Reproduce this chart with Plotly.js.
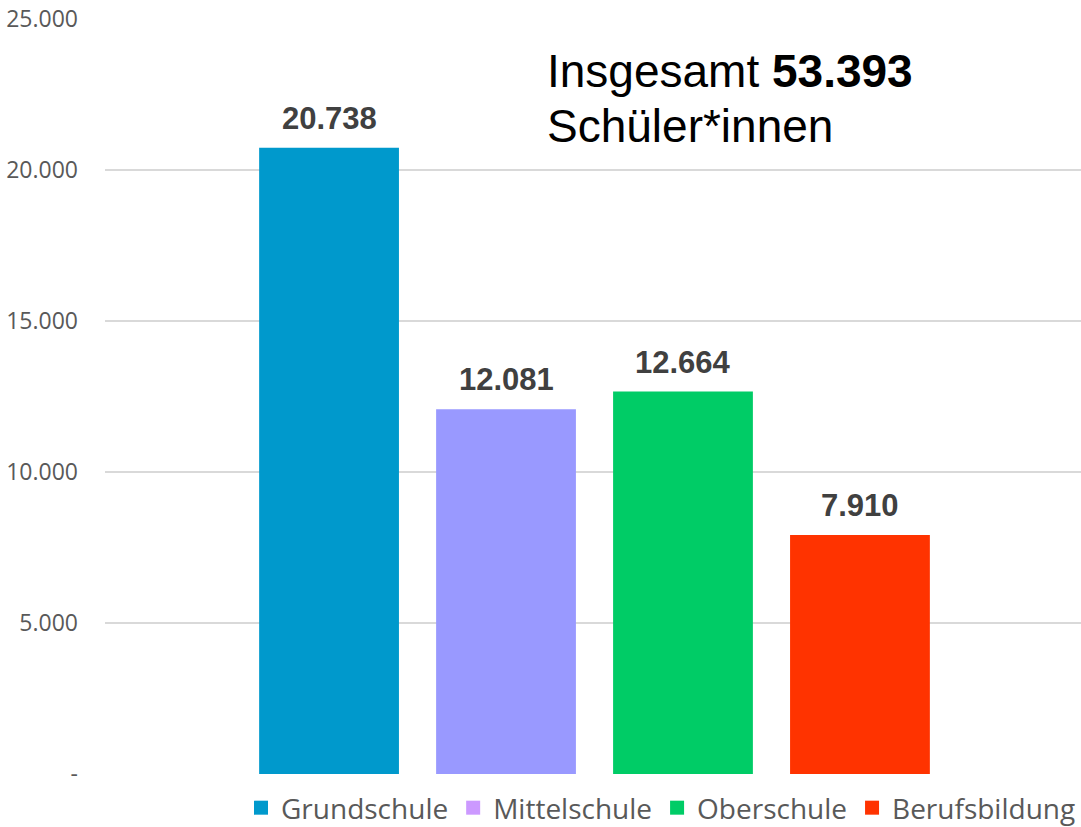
<!DOCTYPE html>
<html>
<head>
<meta charset="utf-8">
<script src="https://cdn.plot.ly/plotly-3.0.1.min.js"></script>
<style>
  html, body { margin: 0; padding: 0; background: #fff; }
  #chart { width: 1081px; height: 827px; }
</style>
</head>
<body>
<div id="chart"></div>
<script>
"use strict";
// schools and pupils per school type
var schools = ["Grundschule", "Mittelschule", "Oberschule", "Berufsbildung"];
var pupils = [20738, 12081, 12664, 7910];
var barColors = ["#0099CC", "#9999FF", "#00CC66", "#FF3300"];
var legendColors = ["#0099CC", "#CC99FF", "#00CC66", "#FF3300"];
var total = 53393;
var yTicks = [0, 5000, 10000, 15000, 20000, 25000];
var yTickText = ["-", "5.000", "10.000", "15.000", "20.000", "25.000"];

function chart(){
  let traces = [];
  let notes = [];
  for (let i = 0; i < schools.length; i++) {
    traces.push({
      x: [schools[i]],
      y: [pupils[i]],
      type: 'bar',
      name: schools[i],
      showlegend: false,
      marker: {color: barColors[i]},
      hoverinfo: 'skip'
    });
    // legend key only (colour of the key differs for Mittelschule)
    traces.push({
      x: [null],
      y: [null],
      type: 'scatter',
      mode: 'markers',
      name: schools[i],
      marker: {color: legendColors[i], symbol: 'square', size: 14},
      hoverinfo: 'skip'
    });
    // value label above the bar
    notes.push({
      x: schools[i],
      y: pupils[i],
      xref: 'x', yref: 'y',
      yanchor: 'bottom',
      yshift: 10,
      text: '<b>' + pupils[i].toLocaleString('de-DE') + '</b>',
      showarrow: false,
      font: {family: 'Liberation Sans, Arial, sans-serif', size: 31, color: '#404040'}
    });
  }

  notes.push({
    xref: 'paper', yref: 'paper',
    x: 0.4508, y: 0.931,
    xanchor: 'left', yanchor: 'middle',
    text: 'Insgesamt <b>' + total.toLocaleString('de-DE') + '</b>',
    showarrow: false,
    font: {family: 'Liberation Sans, Arial, sans-serif', size: 46, color: '#000'}
  });
  notes.push({
    xref: 'paper', yref: 'paper',
    x: 0.4508, y: 0.858,
    xanchor: 'left', yanchor: 'middle',
    text: 'Schüler*innen',
    showarrow: false,
    font: {family: 'Liberation Sans, Arial, sans-serif', size: 46, color: '#000'}
  });

  let format = {
    width: 1081,
    height: 827,
    margin: {l: 105, r: 0, t: 19, b: 53},
    paper_bgcolor: '#fff',
    plot_bgcolor: '#fff',
    barmode: 'overlay',
    bargap: 0.21,
    showlegend: true,
    legend: {
      orientation: 'h',
      xref: 'container', yref: 'container',
      x: 1, xanchor: 'right',
      y: 0.023, yanchor: 'middle',
      font: {family: 'Open Sans, sans-serif', size: 28, color: '#595959'},
      itemwidth: 30,
      tracegroupgap: 0,
      traceorder: 'normal'
    },
    xaxis: {
      type: 'category',
      categoryorder: 'array',
      categoryarray: schools,
      range: [-1.266, 4.249],
      showticklabels: false,
      showgrid: false,
      zeroline: false,
      showline: false,
      fixedrange: true
    },
    yaxis: {
      range: [0, 25000],
      tickvals: yTicks,
      ticktext: yTickText,
      tickfont: {family: 'Open Sans, sans-serif', size: 23, color: '#595959'},
      gridcolor: '#D9D9D9',
      gridwidth: 1.5,
      zeroline: false,
      showline: false,
      ticklabelstandoff: 26,
      fixedrange: true
    },
    annotations: notes
  };

  Plotly.newPlot('chart', traces, format, {displayModeBar: false, staticPlot: true});
}
chart();
</script>
</body>
</html>
